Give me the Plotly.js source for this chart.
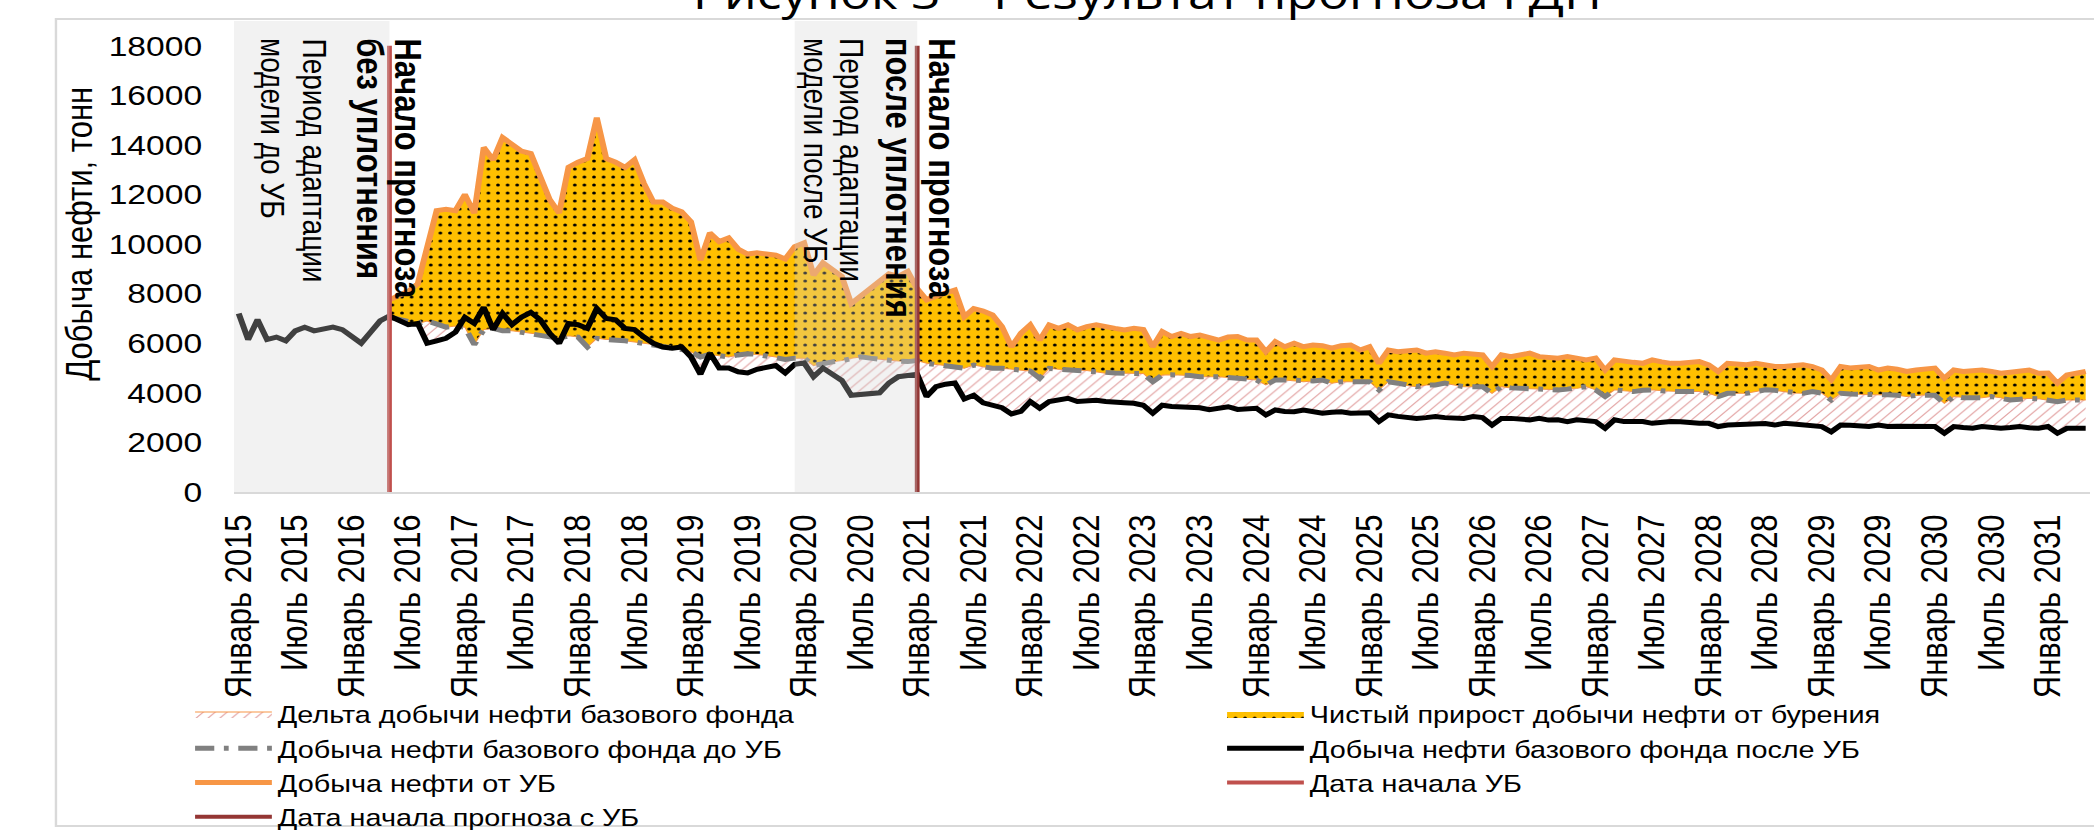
<!DOCTYPE html>
<html>
<head>
<meta charset="utf-8">
<script src="https://cdn.plot.ly/plotly-3.0.1.min.js"></script>
<style>
html,body{margin:0;padding:0;background:#ffffff;overflow:hidden;width:2094px;height:830px;}
#chart{width:1745px;height:830px;transform:scaleX(1.2);transform-origin:0 0;}
</style>
</head>
<body>
<div id="chart"></div>
<script>
// ---- categories ----
const monthNames = ['Январь','Февраль','Март','Апрель','Май','Июнь','Июль','Август','Сентябрь','Октябрь','Ноябрь','Декабрь'];
const startYear = 2015;
const monthCount = 197; // Январь 2015 ... Май 2031
const months = [];
for (let i = 0; i < monthCount; i++) months.push(monthNames[i % 12] + ' ' + (startYear + Math.floor(i / 12)));
const tickLabels = months.filter((m, i) => i % 6 === 0);
const forecastStartIndex = 16;   // Май 2016 – дата начала УБ
const forecastUBIndex = 72;      // Январь 2021 – начало прогноза с УБ
const forecastMonths = months.slice(forecastStartIndex);

// ---- history (Январь 2015 – Апрель 2016) ----
const historyValues = [7200, 6150, 6950, 6150, 6250, 6100, 6500, 6650, 6500, 6600, 6650, 6550, 6300, 6000, 6450, 6900];

// ---- Добыча нефти базового фонда после УБ (Май 2016 – Май 2031) ----
const baseAfterUB = [
  7100, 6900, 6750, 6800, 6000, 6100, 6200, 6450,
  7050, 6800, 7450, 6550, 7200, 6750, 7050, 7250, 6950, 6400, 6000, 6800,
  6750, 6600, 7400, 7000, 6950, 6600, 6550, 6250, 6000, 5850, 5800, 5850,
  5450, 4750, 5600, 5000, 5000, 4850, 4800, 4950, 5050, 5100, 4800, 5150,
  5200, 4650, 5000, 4750, 4500, 3900, 3950, 4000, 4000, 4400, 4650, 4700,
  4750, 3850, 4250, 4350, 4400, 3750, 3900, 3600, 3500, 3400, 3150, 3250,
  3650, 3380, 3650, 3700, 3780, 3650, 3700, 3700, 3650, 3650, 3600, 3580,
  3500, 3180, 3500, 3450, 3450, 3440, 3400, 3320, 3400, 3440, 3330, 3350,
  3380, 3110, 3310, 3250, 3240, 3310, 3250, 3180, 3220, 3240, 3180, 3180,
  3200, 2840, 3110, 3050, 3000, 2970, 3000, 3040, 3000, 2970, 2970, 3040,
  3000, 2700, 2970, 2970, 2940, 2910, 2970, 2900, 2910, 2840, 2910, 2880,
  2840, 2570, 2910, 2840, 2860, 2840, 2770, 2820, 2840, 2830, 2780, 2770,
  2770, 2640, 2700, 2720, 2700, 2770, 2760, 2700, 2770, 2740, 2700, 2680,
  2640, 2430, 2700, 2690, 2660, 2640, 2700, 2640, 2650, 2640, 2640, 2650,
  2640, 2370, 2640, 2600, 2570, 2640, 2580, 2570, 2600, 2640, 2590, 2570,
  2640, 2370, 2570, 2570, 2570
];

// ---- Добыча нефти базового фонда до УБ ----
const baseBeforeUB = [
  7050, 6950, 6850, 6800, 6900, 6750, 6650, 6700,
  6650, 5950, 6550, 6600, 6500, 6500, 6450, 6400, 6350, 6300, 6200, 6300,
  6250, 5850, 6200, 6150, 6150, 6100, 6050, 6000, 5950, 5900, 5800, 5750,
  5650, 5450, 5550, 5500, 5450, 5530, 5580, 5550, 5500, 5450, 5350, 5400,
  5400, 5100, 5200, 5250, 5300, 5400, 5450, 5400, 5350, 5300, 5280, 5260,
  5300, 5190, 5150, 5080, 5050, 4990, 5120, 5050, 4990, 4990, 4950, 4920,
  4880, 4590, 4990, 4950, 4920, 4920, 4900, 4850, 4790, 4800, 4790, 4790,
  4780, 4450, 4720, 4730, 4720, 4700, 4650, 4660, 4650, 4620, 4590, 4540,
  4520, 4320, 4520, 4520, 4500, 4450, 4480, 4520, 4390, 4450, 4450, 4450,
  4450, 4120, 4450, 4390, 4300, 4250, 4320, 4320, 4390, 4320, 4250, 4250,
  4250, 3980, 4250, 4200, 4180, 4180, 4150, 4120, 4120, 4150, 4180, 4250,
  4120, 3850, 4120, 4080, 4050, 4100, 4120, 4080, 4050, 4050, 4050, 4050,
  3980, 3850, 3980, 3990, 3980, 4050, 4120, 4100, 4050, 3990, 3980, 4050,
  3990, 3710, 3980, 3950, 3930, 3920, 3920, 3920, 3900, 3850, 3900, 3920,
  3900, 3580, 3850, 3800, 3780, 3800, 3850, 3800, 3710, 3740, 3780, 3760,
  3700, 3640, 3710, 3710, 3710
];

// ---- Добыча нефти от УБ ----
const productionUB = [
  7750, 7900, 8100, 8400, 9800, 11350, 11400, 11350,
  12000, 11250, 13900, 13400, 14300, 14000, 13750, 13650, 12700, 11800, 11250, 13100,
  13300, 13450, 15100, 13450, 13300, 13100, 13400, 12450, 11700, 11700, 11450, 11300,
  10900, 9350, 10450, 10100, 10250, 9800, 9600, 9650, 9600, 9550, 9400, 9900,
  10050, 8750, 9250, 9000, 8700, 7600, 7900, 8200, 8450, 8800, 8700, 8900,
  8200, 7750, 7900, 8020, 8150, 7070, 7400, 7300, 7140, 6670, 5860, 6400,
  6740, 6130, 6740, 6600, 6740, 6540, 6670, 6740, 6650, 6600, 6540, 6600,
  6550, 5860, 6470, 6270, 6400, 6270, 6330, 6250, 6130, 6250, 6270, 6130,
  6130, 5660, 6070, 5860, 6000, 5860, 5930, 5900, 5800, 5900, 5930, 5730,
  5860, 5190, 5730, 5660, 5700, 5730, 5600, 5660, 5600, 5530, 5600, 5570,
  5530, 5060, 5530, 5460, 5520, 5600, 5460, 5430, 5400, 5460, 5400, 5330,
  5400, 4920, 5330, 5260, 5230, 5190, 5330, 5250, 5190, 5190, 5230, 5260,
  5130, 4860, 5190, 5160, 5130, 5190, 5130, 5060, 5060, 5100, 5130, 5060,
  4920, 4520, 5060, 5000, 5030, 5060, 4920, 5000, 4950, 4860, 4920, 4950,
  5000, 4590, 4920, 4860, 4900, 4920, 4860, 4790, 4830, 4860, 4920, 4790,
  4800, 4390, 4720, 4790, 4860
];

const yTicks = [0, 2000, 4000, 6000, 8000, 10000, 12000, 14000, 16000, 18000];
const yTickText = ['0', '2000', '4000', '6000', '8000', '10000', '12000', '14000', '16000', '18000'];
const markerLineTop = 18000;

const FONT = 'Liberation Sans, Arial, sans-serif';

const traces = [
  { // hidden base for the delta band
    x: forecastMonths, y: baseAfterUB, type: 'scatter', mode: 'lines',
    line: { width: 0, color: 'rgba(0,0,0,0)' }, showlegend: false, hoverinfo: 'skip'
  },
  {
    x: forecastMonths, y: baseBeforeUB, type: 'scatter', mode: 'lines',
    name: 'Дельта добычи нефти базового фонда',
    fill: 'tonexty', fillcolor: '#ffffff',
    fillpattern: { shape: '/', fgcolor: '#E3A3A3', bgcolor: '#ffffff', size: 7, solidity: 0.15 },
    line: { width: 1, color: '#F79646' }
  },
  {
    x: forecastMonths, y: productionUB, type: 'scatter', mode: 'lines',
    name: 'Чистый прирост добычи нефти от бурения',
    fill: 'tonexty', fillcolor: '#FFC000',
    fillpattern: { shape: '.', fgcolor: '#000000', bgcolor: '#FFC000', size: 8, solidity: 0.12 },
    line: { width: 0, color: '#FFC000' }
  },
  {
    x: forecastMonths, y: baseBeforeUB, type: 'scatter', mode: 'lines',
    name: 'Добыча нефти базового фонда до УБ',
    line: { color: '#808080', width: 5, dash: '16px,8px,4px,8px' }
  },
  {
    x: months, y: historyValues.concat(baseAfterUB), type: 'scatter', mode: 'lines',
    name: 'Добыча нефти базового фонда после УБ',
    line: { color: '#000000', width: 5 }
  },
  {
    x: forecastMonths, y: productionUB, type: 'scatter', mode: 'lines',
    name: 'Добыча нефти от УБ',
    line: { color: '#F79646', width: 5 }
  },
  {
    x: [months[forecastStartIndex], months[forecastStartIndex]], y: [0, markerLineTop],
    type: 'scatter', mode: 'lines', name: 'Дата начала УБ',
    line: { color: '#C0504D', width: 4 }
  },
  {
    x: [months[forecastUBIndex], months[forecastUBIndex]], y: [0, markerLineTop],
    type: 'scatter', mode: 'lines', name: 'Дата начала прогноза с УБ',
    line: { color: '#943634', width: 4 }
  }
];

function vText(x, text, size) {
  return { xref: 'x', yref: 'y', x: x, y: 18395, text: text, textangle: 90,
    xanchor: 'center', yanchor: 'top', showarrow: false,
    font: { family: FONT, size: size, color: '#000' } };
}

const layout = {
  width: 1745, height: 830,
  margin: { l: 195, r: 3, t: 21, b: 338, autoexpand: false },
  paper_bgcolor: '#ffffff', plot_bgcolor: 'rgba(0,0,0,0)',
  font: { family: FONT, color: '#000000', size: 28 },
  showlegend: true,
  title: {
    text: 'Рисунок 3 – Результат прогноза ГДН',
    font: { family: 'Open Sans, sans-serif', size: 43, color: '#000000' },
    xref: 'container', x: 0.548, xanchor: 'center',
    yref: 'container', y: 0.989, yanchor: 'bottom'
  },
  xaxis: {
    type: 'category', categoryorder: 'array', categoryarray: months,
    range: [-0.5, monthCount - 0.5],
    tickmode: 'array', tickvals: tickLabels, ticktext: tickLabels,
    tickangle: -90, tickfont: { family: FONT, size: 31, color: '#000' },
    ticks: 'outside', ticklen: 8, tickcolor: 'rgba(0,0,0,0)',
    showgrid: false, zeroline: false,
    showline: true, linecolor: '#D9D9D9', linewidth: 2,
    automargin: false, fixedrange: true
  },
  yaxis: {
    range: [0, 19000], tickmode: 'array', tickvals: yTicks, ticktext: yTickText,
    tickfont: { family: FONT, size: 28, color: '#000' },
    ticks: 'outside', ticklen: 20, tickcolor: 'rgba(0,0,0,0)',
    showgrid: false, zeroline: false, showline: false,
    automargin: false, fixedrange: true
  },
  legend: {
    orientation: 'h', x: -0.0242, xanchor: 'left', y: -0.4246, yanchor: 'top',
    font: { family: FONT, size: 24, color: '#000' },
    itemwidth: 64, entrywidth: 781, entrywidthmode: 'pixels',
    traceorder: 'normal', bgcolor: 'rgba(0,0,0,0)', borderwidth: 0
  },
  shapes: [
    { type: 'rect', xref: 'x', yref: 'y', x0: -0.5, x1: forecastStartIndex, y0: 0, y1: 19000,
      fillcolor: 'rgba(212,212,212,0.3)', line: { width: 0 }, layer: 'above' },
    { type: 'rect', xref: 'x', yref: 'y', x0: 59, x1: forecastUBIndex, y0: 0, y1: 19000,
      fillcolor: 'rgba(212,212,212,0.3)', line: { width: 0 }, layer: 'above' },
    { type: 'rect', xref: 'paper', yref: 'paper', x0: -0.0959, x1: 1.01, y0: -0.709, y1: 1.0042,
      fillcolor: 'rgba(0,0,0,0)', line: { color: '#D9D9D9', width: 2 }, layer: 'below' }
  ],
  annotations: [
    // y-axis title
    { xref: 'paper', yref: 'paper', x: -0.0829, y: 0.5478, text: 'Добыча нефти, тонн',
      textangle: -90, xanchor: 'center', yanchor: 'middle', showarrow: false,
      font: { family: FONT, size: 31, color: '#000' } },
    vText(8.1, 'Период адаптации', 28),
    vText(3.53, 'модели до УБ', 28),
    vText(17.97, '<b>Начало прогноза</b>', 31),
    vText(13.93, '<b>без уплотнения</b>', 31),
    vText(65.09, 'Период адаптации', 28),
    vText(61.27, 'модели после УБ', 28),
    vText(74.54, '<b>Начало прогноза</b>', 31),
    vText(70.08, '<b>после уплотнения</b>', 31)
  ]
};

Plotly.newPlot('chart', traces, layout, { staticPlot: true, displayModeBar: false });
</script>
</body>
</html>
